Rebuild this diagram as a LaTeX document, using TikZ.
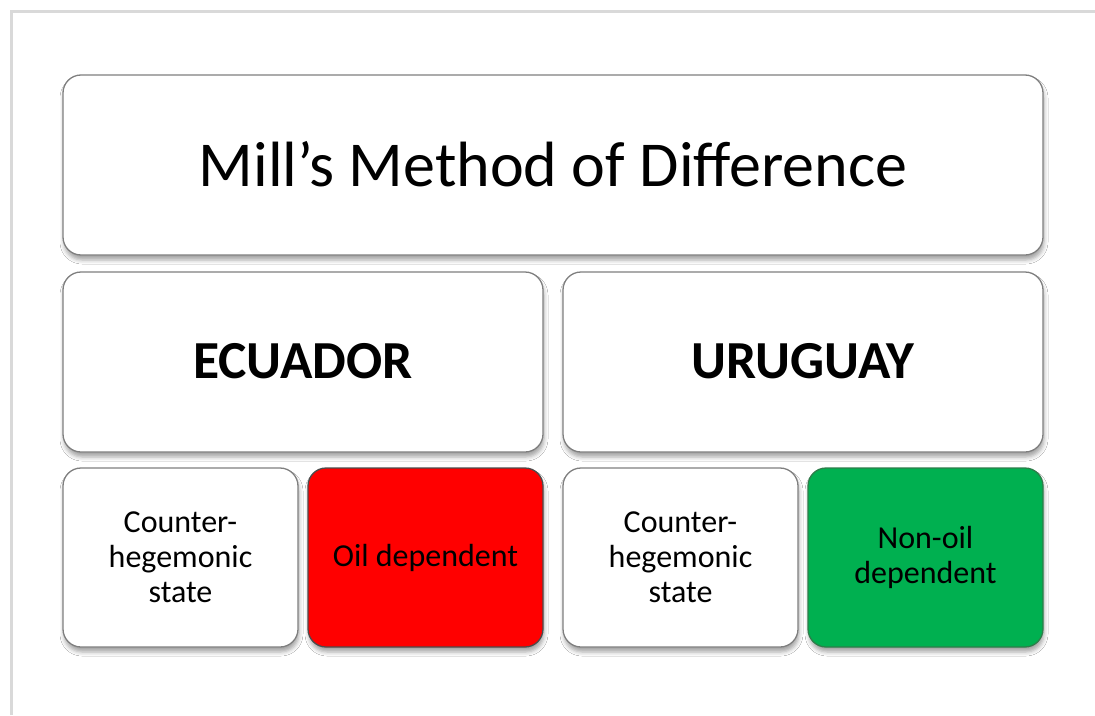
\documentclass[tikz,border=0pt]{standalone}
\usepackage{fontspec}
\setmainfont{Carlito}
\usetikzlibrary{shadows.blur}
\definecolor{boxline}{HTML}{7F7F7F}
\definecolor{frameline}{HTML}{D9D9D9}
\definecolor{oilred}{HTML}{FF0000}
\definecolor{nonoil}{HTML}{00B050}
\definecolor{nonoilline}{HTML}{2E7D4A}
\tikzset{
  card/.style={draw=boxline, line width=1.3pt, fill=white, rounded corners=18pt,
    blur shadow={shadow xshift=1pt, shadow yshift=-5pt, shadow blur radius=4pt, shadow opacity=35},
    inner sep=0pt, align=center, text=black},
  titlecard/.style={card, minimum width=980pt, minimum height=180pt, font=\fontsize{64}{77}\selectfont},
  countrycard/.style={card, minimum width=480pt, minimum height=180pt, font=\fontsize{53.5}{64}\selectfont\bfseries},
  smallcard/.style={card, minimum width=235pt, minimum height=179pt, font=\fontsize{32}{35}\selectfont},
}
\begin{document}
\begin{tikzpicture}[x=1pt,y=-1pt]
\useasboundingbox (0,0) rectangle (1095,715);
\fill[white] (0,0) rectangle (1095,715);
\draw[frameline, line width=3pt] (11,715) -- (11,11) -- (1095,11);
\node[titlecard] (title) at (553,165) {\raisebox{3pt}{Mill’s Method of Difference}};
\node[countrycard] (ecuador) at (303,362) {\raisebox{2pt}{ECUADOR}};
\node[countrycard] (uruguay) at (803,362) {\raisebox{2pt}{URUGUAY}};
\node[smallcard] (ecch) at (180.5,557.5) {Counter-\\hegemonic\\state};
\node[smallcard, fill=oilred, draw=boxline!60!black] (oil) at (425.5,557.5) {Oil dependent};
\node[smallcard] (urch) at (680.5,557.5) {Counter-\\hegemonic\\state};
\node[smallcard, fill=nonoil, draw=nonoilline] (nonoil) at (925.5,557.5) {Non-oil\\dependent};
\end{tikzpicture}
\end{document}
